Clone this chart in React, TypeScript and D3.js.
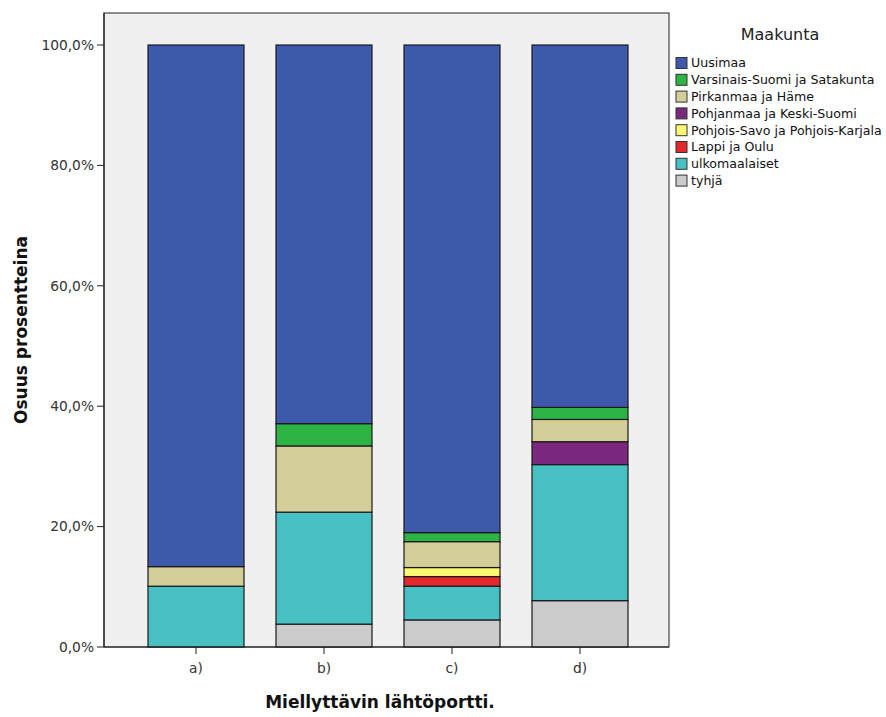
import React from "react";
import * as d3 from "d3";

const categories = ["a)", "b)", "c)", "d)"];
const seriesNames = [
  "Uusimaa",
  "Varsinais-Suomi ja Satakunta",
  "Pirkanmaa ja Häme",
  "Pohjanmaa ja Keski-Suomi",
  "Pohjois-Savo ja Pohjois-Karjala",
  "Lappi ja Oulu",
  "ulkomaalaiset",
  "tyhjä",
];
const seriesColors = ["#3e58ac", "#2db444", "#d4ce98", "#7d2880", "#fbf873", "#e3292e", "#48c1c5", "#cbcbcb"];
// values per category in order of seriesNames (percent)
const uusimaa = [86.65, 62.9, 81.0, 60.2];
const varsinais = [0, 3.7, 1.5, 2.0];
const pirkanmaa = [3.25, 11.0, 4.3, 3.7];
const pohjanmaa = [0, 0, 0, 3.8];
const pohjoisSavo = [0, 0, 1.5, 0];
const lappi = [0, 0, 1.6, 0];
const ulkomaalaiset = [10.1, 18.6, 5.6, 22.6];
const tyhja = [0, 3.8, 4.5, 7.7];
const yTicks = [0, 20, 40, 60, 80, 100];

const seriesValues = [uusimaa, varsinais, pirkanmaa, pohjanmaa, pohjoisSavo, lappi, ulkomaalaiset, tyhja];

export default function App() {
  const W = 886, H = 717;
  const frame = { left: 104, right: 669, top: 13, bottom: 647 };
  const y = d3.scaleLinear().domain([0, 100]).range([647, 45]);
  const x = d3.scaleBand().domain(categories).range([132, 644]).paddingInner(0.25).paddingOuter(0.125);

  const rows = categories.map((c, i) => {
    const r: any = { cat: c };
    seriesNames.forEach((s, j) => (r[s] = seriesValues[j][i]));
    return r;
  });
  const stackOrder = [...seriesNames].reverse(); // bottom to top
  const stacked = d3.stack<any>().keys(stackOrder)(rows);
  const colorOf = (s: string) => seriesColors[seriesNames.indexOf(s)];
  const font = "'DejaVu Sans', sans-serif";

  return (
    <svg width={W} height={H} style={{ position: "absolute", left: 0, top: 0, background: "#fff" }}>
      <rect x={0} y={0} width={W} height={H} fill="#fff" />
      <rect x={frame.left} y={frame.top} width={frame.right - frame.left} height={frame.bottom - frame.top} fill="#f0f0f0" stroke="#222" strokeWidth={1} />
      {stacked.map((layer) =>
        layer.map((d, i) => {
          const h = y(d[0]) - y(d[1]);
          if (h <= 0) return null;
          return (
            <rect
              key={layer.key + i}
              x={x(categories[i])!}
              y={y(d[1])}
              width={x.bandwidth()}
              height={h}
              fill={colorOf(layer.key)}
              stroke="#1a1a1a"
              strokeWidth={1.2}
            />
          );
        })
      )}
      {/* y axis */}
      <line x1={frame.left} x2={frame.left} y1={frame.top} y2={frame.bottom} stroke="#222" strokeWidth={1.2} />
      {yTicks.map((t) => (
        <g key={t}>
          <line x1={frame.left - 7} x2={frame.left} y1={y(t)} y2={y(t)} stroke="#222" strokeWidth={1} />
          <text x={frame.left - 10} y={y(t)} dy="0.35em" textAnchor="end" fontFamily={font} fontSize={13.8} fill="#333">
            {t.toFixed(1).replace(".", ",") + "%"}
          </text>
        </g>
      ))}
      {/* x axis */}
      <line x1={frame.left} x2={frame.right} y1={frame.bottom} y2={frame.bottom} stroke="#222" strokeWidth={1.2} />
      {categories.map((c) => {
        const cx = x(c)! + x.bandwidth() / 2;
        return (
          <g key={c}>
            <line x1={cx} x2={cx} y1={frame.bottom} y2={frame.bottom + 7} stroke="#222" strokeWidth={1} />
            <text x={cx} y={frame.bottom + 26} textAnchor="middle" fontFamily={font} fontSize={13.8} fill="#333">
              {c}
            </text>
          </g>
        );
      })}
      <text x={380} y={708} textAnchor="middle" fontFamily={font} fontWeight="bold" fontSize={17} fill="#111">
        Miellyttävin lähtöportti.
      </text>
      <text transform={`translate(27,330) rotate(-90)`} textAnchor="middle" fontFamily={font} fontWeight="bold" fontSize={17} fill="#111">
        Osuus prosentteina
      </text>
      {/* legend */}
      <text x={780} y={40} textAnchor="middle" fontFamily={font} fontSize={16} fill="#222">
        Maakunta
      </text>
      {seriesNames.map((s, i) => {
        const cy = 63 + i * 16.8;
        return (
          <g key={s}>
            <rect x={676} y={cy - 5.5} width={11} height={11} fill={seriesColors[i]} stroke="#333" strokeWidth={1} />
            <text x={691} y={cy} dy="0.35em" fontFamily={font} fontSize={12.6} fill="#111">
              {s}
            </text>
          </g>
        );
      })}
    </svg>
  );
}
